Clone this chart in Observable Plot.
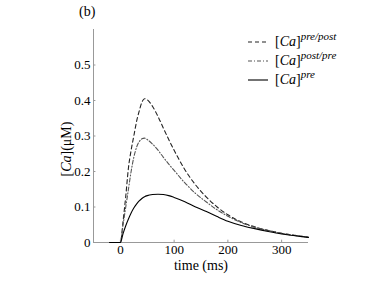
<!DOCTYPE html>
<html><head><meta charset="utf-8">
<script src="https://cdn.jsdelivr.net/npm/d3@7"></script>
<script src="https://cdn.jsdelivr.net/npm/@observablehq/plot@0.6"></script>
<style>
body{margin:0;background:#fff;}
#wrap{position:relative;width:382px;height:286px;font-family:"Liberation Serif","Times New Roman","DejaVu Serif",serif;color:#000;overflow:hidden;}
#chart{position:absolute;left:0;top:0;}
#chart svg, #chart svg text{font-family:"Liberation Serif","Times New Roman",serif !important;}
.ov{position:absolute;white-space:nowrap;line-height:1;}
.row{position:absolute;left:0;display:flex;align-items:center;}
.row svg{margin-right:7px;}
sup{font-style:italic;font-size:11px;vertical-align:6px;line-height:0;}
</style></head><body>
<div id="wrap"><div id="chart"></div>
<div class="ov" style="left:79px;top:5px;font-size:14px;">(b)</div>
<div class="ov" id="ylab" style="left:67px;top:149px;font-size:14px;transform:translate(-50%,-50%) rotate(-90deg);">[<i>Ca</i>](μM)</div>
<div class="ov" id="legend" style="left:248px;top:33px;font-size:14px;"></div>
</div>
<script>
const time = [-20, 0, 5, 10, 15, 20, 25, 30, 35, 40, 45, 50, 60, 70, 80, 90, 100, 120, 140, 160, 180, 200, 225, 250, 275, 300, 325, 350];
const caPrePost = [0, 0, 0.06, 0.13, 0.21, 0.26, 0.30, 0.34, 0.37, 0.395, 0.405, 0.402, 0.383, 0.355, 0.322, 0.29, 0.26, 0.205, 0.162, 0.128, 0.1, 0.078, 0.058, 0.044, 0.034, 0.026, 0.02, 0.015];
const caPostPre = [0, 0, 0.05, 0.1, 0.15, 0.2, 0.24, 0.268, 0.284, 0.292, 0.294, 0.29, 0.277, 0.26, 0.24, 0.221, 0.203, 0.168, 0.138, 0.114, 0.092, 0.074, 0.056, 0.043, 0.034, 0.026, 0.02, 0.015];
const caPre = [0, 0, 0.025, 0.047, 0.066, 0.083, 0.097, 0.108, 0.117, 0.124, 0.129, 0.132, 0.135, 0.136, 0.135, 0.132, 0.127, 0.115, 0.1, 0.087, 0.073, 0.06, 0.048, 0.039, 0.031, 0.024, 0.019, 0.014];
const seriesNames = ["pre/post", "post/pre", "pre"];
const xTicks = [0, 100, 200, 300];
const yTicks = [0, 0.1, 0.2, 0.3, 0.4, 0.5];
const yTickLabels = ["0", "0.1", "0.2", "0.3", "0.4", "0.5"];

const styles = [
  {dash: "4,3", color: "#222"},
  {dash: "4,2,1,2", color: "#555"},
  {dash: null, color: "#000"}
];
const seriesValues = [caPrePost, caPostPre, caPre];
const tables = seriesValues.map(vals => time.map((t, i) => ({t, v: vals[i]})));

const axisColor = "#999";
const chart = Plot.plot({
  width: 382, height: 286,
  marginLeft: 93, marginRight: 74, marginTop: 29, marginBottom: 44,
  style: {fontFamily: "'Liberation Serif', 'Times New Roman', serif", fontSize: "13px", background: "transparent", color: "#000"},
  x: {domain: [-50, 350]},
  y: {domain: [0, 0.6]},
  marks: [
    Plot.ruleX([-50], {stroke: axisColor}),
    Plot.ruleY([0], {stroke: axisColor}),
    Plot.ruleX(xTicks, {x: d => d, y1: 0, y2: 0.0065, stroke: axisColor}),
    Plot.ruleY(yTicks, {y: d => d, x1: -50, x2: -45.5, stroke: axisColor}),
    Plot.axisX({ticks: xTicks, tickSize: 0, tickPadding: 2, label: null, fill: "#000"}),
    Plot.axisY({ticks: yTicks, tickSize: 0, tickPadding: 3, label: null, fill: "#000", tickFormat: (d) => yTickLabels[yTicks.indexOf(d)]}),
    Plot.text(["time (ms)"], {frameAnchor: "bottom", dy: 27, fontSize: 14, text: d => d}),
    ...tables.map((tb, k) => Plot.line(tb, {x: "t", y: "v", curve: "monotone-x", stroke: styles[k].color, strokeWidth: 1.1, strokeDasharray: styles[k].dash}))
  ]
});
document.getElementById("chart").appendChild(chart);

const legend = document.getElementById("legend");
seriesNames.forEach((name, k) => {
  const row = document.createElement("div");
  row.className = "row";
  row.style.top = (k * 19) + "px";
  row.innerHTML = `<svg width="20" height="18"><line x1="0" x2="20" y1="9" y2="9" stroke="${styles[k].color}" stroke-width="1.1" ${styles[k].dash ? `stroke-dasharray="${styles[k].dash}"` : ""}/></svg><span>[<i>Ca</i>]<sup>${name}</sup></span>`;
  legend.appendChild(row);
});
</script>
</body></html>
